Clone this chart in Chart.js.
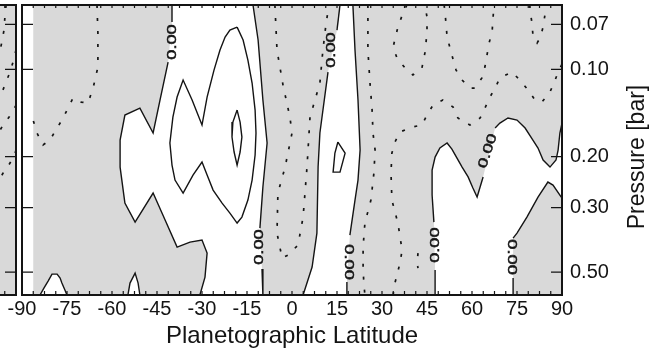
<!DOCTYPE html>
<html>
<head>
<meta charset="utf-8">
<script src="https://cdn.jsdelivr.net/npm/chart.js@4.4.1/dist/chart.umd.min.js"></script>
<style>
  html, body { margin: 0; padding: 0; background: #fff; }
  #wrap { position: relative; width: 667px; height: 359px; overflow: hidden; }
  #wrap canvas { position: absolute; top: 0; }
  #side { left: -546px; }
  #main { left: 0; }
</style>
</head>
<body>
<div id="wrap">
  <canvas id="side" width="667" height="359"></canvas>
  <canvas id="main" width="667" height="359"></canvas>
</div>
<script>
// axes
const latTicks = [-90, -75, -60, -45, -30, -15, 0, 15, 30, 45, 60, 75, 90];
const pressureTicks = [0.07, 0.10, 0.20, 0.30, 0.50];
// data domain (latitude grid starts at -86.25, step 3.75)
const latMin = -86.25, latMax = 90, pTop = 0.06, pBottom = 0.6;

// zero contour pieces [lat, pressure], broken where the "0.00" labels sit
const zeroWestA = [[-40, 0.06], [-40, 0.0687]];
const zeroWestB = [[-41.3, 0.0944], [-44, 0.1276], [-46.3, 0.1658], [-50.7, 0.136], [-55.7, 0.1438], [-57.3, 0.1753], [-57.3, 0.2173], [-55.7, 0.2892], [-52.3, 0.3363], [-46.3, 0.2671], [-42.3, 0.331], [-38.3, 0.4101], [-34, 0.3941], [-30, 0.3879], [-28.3, 0.4301], [-29, 0.5205], [-30.7, 0.6]];
const zeroEqWestA = [[-13, 0.06], [-11.3, 0.0792], [-9.7, 0.1276], [-8.3, 0.1795], [-9.7, 0.2546], [-10.7, 0.3527]];
const zeroEqWestB = [[-10, 0.488], [-9.7, 0.6]];
const zeroEqEastA = [[16, 0.06], [15, 0.0732]];
const zeroEqEastB = [[12, 0.1022], [9.3, 0.1658], [8.7, 0.2173], [8.3, 0.367], [6.7, 0.4807], [3.7, 0.6]];
const zeroBandA = [[20.3, 0.06], [21, 0.0858], [22, 0.1276], [22.7, 0.1898], [22, 0.2409], [21, 0.2824], [19.3, 0.3728]];
const zeroBandB = [[18.3, 0.5415], [18.3, 0.6]];
const zeroNorthA = [[47.7, 0.6], [47.7, 0.4923]];
const zeroNorthB = [[47.3, 0.3363], [46.7, 0.2714], [46.7, 0.2225], [47.7, 0.2007], [49.3, 0.1868], [51.7, 0.1795], [53.3, 0.1883], [55, 0.2023], [56.7, 0.2173], [58.7, 0.235], [60.3, 0.2567], [61.7, 0.2757], [62.7, 0.2546], [63.7, 0.235]];
const zeroNorthC = [[67.7, 0.1594], [69.3, 0.1532], [72, 0.1472], [75, 0.1496], [77.7, 0.1594], [80.3, 0.1753], [82, 0.1868], [83.7, 0.2055], [86, 0.2173], [88, 0.2055], [88.7, 0.1898], [89.3, 0.1658], [90, 0.1532]];
const zeroPolarA = [[90, 0.278], [89.3, 0.2714], [87, 0.2506], [85.3, 0.2447], [82, 0.2757], [78.3, 0.3232], [75, 0.367], [73.7, 0.3818]];
const zeroPolarB = [[73.7, 0.5246], [73.7, 0.6]];
const bumpWest = [[-84, 0.6], [-82.7, 0.568], [-81.3, 0.5372], [-80, 0.5082], [-78.3, 0.5082], [-77.3, 0.5246], [-76.7, 0.5459], [-75.7, 0.5771], [-75, 0.6]];
const bumpMid = [[-54.7, 0.6], [-54, 0.5459], [-52.3, 0.5042], [-51.3, 0.5459], [-50.7, 0.6]];

// positive contours (solid, closed)
const posRing = [[-18.3, 0.0715], [-20.7, 0.0732], [-22.3, 0.0774], [-24, 0.0858], [-26, 0.1006], [-28.3, 0.1246], [-30, 0.1556], [-33.3, 0.1276], [-36.3, 0.1089], [-38.3, 0.1246], [-39.7, 0.1461], [-40.7, 0.1795], [-40, 0.2138], [-39, 0.2409], [-36.3, 0.2671], [-33, 0.2315], [-30, 0.2088], [-28.3, 0.2315], [-26.3, 0.2608], [-23.3, 0.2892], [-20.7, 0.3131], [-18.3, 0.3389], [-16.7, 0.3232], [-14.7, 0.2824], [-13.3, 0.2409], [-12.3, 0.1975], [-12, 0.1658], [-12.3, 0.1382], [-13.3, 0.1115], [-14.7, 0.0929], [-16.3, 0.0792], [-18.3, 0.0715]];
const posCore = [[-18.3, 0.1382], [-19.7, 0.152], [-20, 0.1712], [-19.3, 0.1928], [-18.3, 0.2138], [-17.3, 0.1928], [-16.7, 0.1712], [-17.3, 0.152], [-18.3, 0.1382]];
const posSmall = [[15.3, 0.1781], [17.7, 0.1944], [16, 0.2261], [13.7, 0.2261], [14.3, 0.1944], [15.3, 0.1781]];

// negative contours (dotted)
const negWest = [[-65, 0.06], [-64.7, 0.0749], [-64.7, 0.0982], [-66.3, 0.116], [-68, 0.1307], [-70.3, 0.1297], [-73, 0.1256], [-76.3, 0.1472], [-80.7, 0.1753], [-83, 0.1824], [-85, 0.1658], [-86.3, 0.1496]];
const negEq = [[-5.7, 0.06], [-5, 0.0858], [-3, 0.1133], [-0.7, 0.1461], [0, 0.1658], [-2.3, 0.2173], [-4.7, 0.2671], [-5, 0.367], [-3.3, 0.4475], [-1.3, 0.437], [2, 0.4037], [3.7, 0.3232], [5, 0.2173], [6, 0.1461], [9.3, 0.1115], [10.3, 0.0858], [11.3, 0.0703], [12.3, 0.06]];
const negN25 = [[25.3, 0.06], [25.3, 0.0858], [26, 0.1115], [26.7, 0.1382], [27, 0.1658], [27.7, 0.1898], [27.3, 0.2279], [26.3, 0.2824], [24.3, 0.3389], [23.7, 0.4101], [23.7, 0.4923], [24, 0.5546], [24.3, 0.6]];
const negN40 = [[38.3, 0.06], [37, 0.0639], [35.3, 0.0715], [33.7, 0.0838], [35, 0.0914], [37.7, 0.099], [40.3, 0.1046], [43.3, 0.099], [44.3, 0.0878], [45, 0.0749], [45, 0.066], [44.3, 0.06]];
const negN58 = [[50.7, 0.06], [51, 0.0634], [51.7, 0.0774], [53.3, 0.0893], [54.7, 0.1006], [56.7, 0.1089], [59.3, 0.116], [61, 0.116], [63.3, 0.1071], [64.3, 0.0982], [65, 0.0893], [65.7, 0.0811], [66.7, 0.0743], [67, 0.067], [67.3, 0.06]];
const negN82 = [[79.3, 0.06], [79.3, 0.0624], [80, 0.0692], [80.3, 0.0761], [81.7, 0.0811], [82.7, 0.078], [83.7, 0.0715], [84.3, 0.065], [85, 0.06]];
const negLong = [[33.7, 0.6], [34.3, 0.5459], [36, 0.4657], [36.7, 0.42], [35.3, 0.3389], [33.3, 0.2824], [33, 0.2279], [33.3, 0.1944], [34.3, 0.1781], [36, 0.1645], [40, 0.1581], [43.3, 0.1556], [45, 0.1438], [47, 0.1328], [50.3, 0.1276], [53.7, 0.1349], [55.3, 0.1472], [59.3, 0.1556], [62.7, 0.1472], [64.3, 0.136], [66, 0.1246], [67.7, 0.116], [69.3, 0.1071], [73.3, 0.1022], [76, 0.1089], [78.7, 0.1179], [81, 0.1276], [83.3, 0.1297], [86, 0.1197], [87.7, 0.1089], [89, 0.1006], [90, 0.0959]];
const negSpeck = [[42, 0.4301], [41.7, 0.4657], [42, 0.4845]];

// contour labels
const labelLat = [-40, 13.2, -11, 18.7, 47.7, 73.3, 65.3];
const labelP = [0.0805, 0.0858, 0.41, 0.462, 0.4037, 0.444, 0.1913];
const labelAngle = [-90, -90, -90, 90, -90, 90, -72];

// neighbouring panel (only its eastern edge is visible)
const sideDot1 = [[86.7, 0.06], [86.3, 0.066], [86, 0.0732], [85.3, 0.0805], [84.7, 0.0858]];
const sideDot2 = [[90, 0.0858], [89, 0.0944], [88, 0.1022], [86.3, 0.1133], [84.7, 0.1246]];
const sideDot3 = [[90, 0.1328], [89.7, 0.1349], [87.7, 0.1461], [85.7, 0.1556], [84.7, 0.1619]];
const sideDot4 = [[90, 0.1898], [89.7, 0.1944], [88, 0.2105], [85.7, 0.2279], [84.7, 0.2371]];

const INK = '#141414';
const GRAY = '#d9d9d9';
const FONT = "'Liberation Sans', Arial, Helvetica, sans-serif";

const pts = a => a.map(d => ({ x: d[0], y: d[1] }));
const rev = a => a.slice().reverse();
const minorLats = [];
for (let v = latMin; v <= latMax + 0.01; v += 3.75) minorLats.push(v);
const domainBox = [[latMin, pTop], [latMax, pTop], [latMax, pBottom], [latMin, pBottom]];

function area(arr, color, order) {
  return { data: pts(arr), showLine: true, fill: 'shape', backgroundColor: color,
    borderColor: 'rgba(0,0,0,0)', borderWidth: 0, pointRadius: 0, clip: false, order: order };
}
function solid(arr) {
  return { data: pts(arr), showLine: true, fill: false, borderColor: INK,
    borderWidth: 1.4, pointRadius: 0, order: 1 };
}
function dotted(arr) {
  return { data: pts(arr), showLine: true, fill: false, borderColor: INK,
    borderWidth: 1.7, borderDash: [3, 10], pointRadius: 0, order: 1 };
}

// white (positive) regions bounded by the zero line
const whiteWest = [...zeroWestA, ...zeroWestB, ...rev(zeroEqWestB), ...rev(zeroEqWestA)];
const whiteBand = [...zeroEqEastA, ...zeroEqEastB, ...rev(zeroBandB), ...rev(zeroBandA)];
const whiteNorth = [...zeroNorthA, ...zeroNorthB, ...zeroNorthC, ...zeroPolarA, ...zeroPolarB];

//draw frame, inward ticks
const framePlugin = {
  id: 'frame',
  afterDatasetsDraw(chart) {
    const { ctx, chartArea: a, scales: { x, y } } = chart;
    ctx.save();
    ctx.strokeStyle = INK;
    ctx.lineWidth = 1.2;
    ctx.beginPath();
    minorLats.forEach(v => {
      const px = x.getPixelForValue(v);
      ctx.moveTo(px, a.top); ctx.lineTo(px, a.top + 3);
      ctx.moveTo(px, a.bottom); ctx.lineTo(px, a.bottom - 4);
    });
    pressureTicks.forEach(v => {
      const py = y.getPixelForValue(v);
      ctx.moveTo(a.left, py); ctx.lineTo(a.left + 11, py);
      ctx.moveTo(a.right, py); ctx.lineTo(a.right - 11, py);
    });
    ctx.stroke();
    ctx.lineWidth = 2;
    ctx.strokeRect(a.left, a.top, a.right - a.left, a.bottom - a.top);
    ctx.restore();
  }
};

//"0.00" labels on the zero contour
const labelPlugin = {
  id: 'zeroLabels',
  afterDatasetsDraw(chart) {
    const { ctx, scales: { x, y } } = chart;
    ctx.save();
    ctx.fillStyle = INK;
    ctx.strokeStyle = INK;
    ctx.lineWidth = 0.5;
    ctx.font = '13px ' + FONT;
    ctx.textAlign = 'center';
    ctx.textBaseline = 'middle';
    labelLat.forEach((lat, i) => {
      ctx.save();
      ctx.translate(x.getPixelForValue(lat), y.getPixelForValue(labelP[i]));
      ctx.rotate(labelAngle[i] * Math.PI / 180);
      ctx.scale(1.4, 1);
      ctx.fillText('0.00', 0, 0);
      ctx.strokeText('0.00', 0, 0);
      ctx.restore();
    });
    ctx.restore();
  }
};

//right axis title reads bottom to top
const yTitlePlugin = {
  id: 'yTitle',
  afterDraw(chart) {
    const { ctx } = chart;
    ctx.save();
    ctx.fillStyle = INK;
    ctx.font = '23px ' + FONT;
    ctx.textAlign = 'center';
    ctx.textBaseline = 'middle';
    ctx.translate(638, 157);
    ctx.rotate(-Math.PI / 2);
    ctx.fillText('Pressure [bar]', 0, 0);
    ctx.restore();
  }
};

// same box sizes for both panels so that their plot areas line up
const baseScales = (show) => ({
  x: {
    type: 'linear', min: -90, max: 90,
    afterBuildTicks: s => { s.ticks = latTicks.map(v => ({ value: v })); },
    ticks: { display: show, autoSkip: false, maxRotation: 0, padding: 2, color: INK, font: { family: FONT, size: 20 } },
    grid: { display: false, drawTicks: false },
    border: { display: false },
    title: { display: show, text: 'Planetographic Latitude', color: INK,
      font: { family: FONT, size: 24 }, padding: { top: 0, bottom: 8 } },
    afterFit: s => { s.height = 64; s.paddingLeft = 0; s.paddingRight = 0; }
  },
  y: {
    type: 'logarithmic', position: 'right', reverse: true, min: pTop, max: pBottom,
    afterBuildTicks: s => { s.ticks = pressureTicks.map(v => ({ value: v })); },
    ticks: { display: show, padding: 8, color: INK, font: { family: FONT, size: 20 },
      callback: v => Number(v).toFixed(2) },
    grid: { display: false, drawTicks: false },
    border: { display: false },
    afterFit: s => { s.width = 105; s.paddingTop = 0; s.paddingBottom = 0; }
  }
});

const baseOptions = (show) => ({
  responsive: false,
  animation: false,
  layout: { padding: { left: 22, top: 5, right: 0, bottom: 0 } },
  plugins: { legend: { display: false }, tooltip: { enabled: false } },
  scales: baseScales(show)
});

new Chart(document.getElementById('main'), {
  type: 'scatter',
  data: {
    datasets: [
      area(domainBox, GRAY, 10),
      area(whiteWest, '#ffffff', 9),
      area(whiteBand, '#ffffff', 9),
      area(whiteNorth, '#ffffff', 9),
      area(bumpWest, '#ffffff', 9),
      area(bumpMid, '#ffffff', 9),
      solid(zeroWestA), solid(zeroWestB),
      solid(zeroEqWestA), solid(zeroEqWestB),
      solid(zeroEqEastA), solid(zeroEqEastB),
      solid(zeroBandA), solid(zeroBandB),
      solid(zeroNorthA), solid(zeroNorthB), solid(zeroNorthC),
      solid(zeroPolarA), solid(zeroPolarB),
      solid(bumpWest), solid(bumpMid),
      solid(posRing), solid(posCore), solid(posSmall),
      dotted(negWest), dotted(negEq), dotted(negN25), dotted(negN40),
      dotted(negN58), dotted(negN82), dotted(negLong), dotted(negSpeck)
    ]
  },
  options: baseOptions(true),
  plugins: [framePlugin, labelPlugin, yTitlePlugin]
});

// neighbouring panel, shifted left so that only its right edge shows
new Chart(document.getElementById('side'), {
  type: 'scatter',
  data: {
    datasets: [
      area(domainBox, GRAY, 10),
      dotted(sideDot1), dotted(sideDot2), dotted(sideDot3), dotted(sideDot4)
    ]
  },
  options: baseOptions(false),
  plugins: [framePlugin]
});
</script>
</body>
</html>
